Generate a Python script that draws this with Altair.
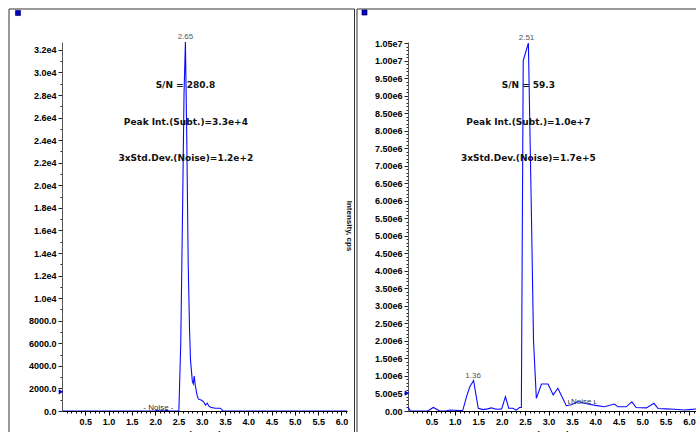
import altair as alt
import pandas as pd

# ---------------- data ----------------
left_time = [0.0, 0.5, 1.0, 1.5, 1.9, 2.0, 2.05, 2.1, 2.15, 2.2,
             2.25, 2.3, 2.4, 2.46, 2.51, 2.55, 2.59, 2.62, 2.65, 2.68,
             2.71, 2.74, 2.76, 2.80, 2.82, 2.84, 2.86, 2.90, 2.93, 3.00,
             3.04, 3.08, 3.12, 3.15, 3.19, 3.29, 3.40, 3.43, 3.45, 4.0,
             5.0, 6.12]
left_int = [0, 0, 0, 0, 0, 0, 90, 0, 40, 0,
            70, 0, 0, 0, 0, 6000, 18000, 28000, 32700, 24000,
            13000, 7000, 4500, 2600, 2400, 3100, 2300, 1400, 1050, 950,
            820, 530, 700, 450, 330, 250, 250, 150, 0, 0,
            0, 0]

right_time = [0.0, 0.05, 0.1, 0.42, 0.54, 0.68, 0.8, 0.9, 1.0, 1.1,
              1.17, 1.25, 1.32, 1.40, 1.50, 1.60, 1.70, 1.78, 1.85, 1.92,
              2.00, 2.08, 2.15, 2.24, 2.31, 2.38, 2.42, 2.46, 2.57, 2.63,
              2.68, 2.74, 2.85, 2.99, 3.10, 3.20, 3.38, 3.49, 3.63, 3.84,
              4.0, 4.19, 4.41, 4.48, 4.66, 4.78, 4.87, 5.09, 5.25, 5.34,
              5.5, 5.69, 5.91, 6.0, 6.17]
right_int = [1.2e5, 0, 0, 0, 1.0e5, 0, 0, 3e4, 2e4, 1e4,
             2e4, 4.1e5, 6.9e5, 8.7e5, 7.6e4, 4e4, 6e4, 9e4, 6e4, 5e4,
             6e4, 4.1e5, 8e4, 8e4, 2.5e4, 1.0e5, 1.0e5, 1.0e7, 1.05e7, 6.0e6,
             2.0e6, 3.6e5, 7.7e5, 7.7e5, 4.6e5, 6.5e5, 1.5e5, 1.8e5, 2.7e5, 2.0e5,
             1.6e5, 1.2e5, 2.0e5, 1.2e5, 1.2e5, 2.6e5, 1.0e5, 9e4, 2.2e5, 7e4,
             6e4, 5e4, 3e4, 4e4, 6e4]

left_notes = ["S/N = 280.8", "Peak Int.(Subt.)=3.3e+4", "3xStd.Dev.(Noise)=1.2e+2"]
left_note_t = [2.65, 2.66, 2.66]
left_note_v = [28900, 25620, 22430]
right_notes = ["S/N = 59.3", "Peak Int.(Subt.)=1.0e+7", "3xStd.Dev.(Noise)=1.7e+5"]
right_note_t = [2.57, 2.57, 2.57]
right_note_v = [9.30e6, 8.25e6, 7.22e6]

left_peak_labels = ["2.65"]
left_peak_t = [2.65]
left_peak_v = [32700]
right_peak_labels = ["2.51", "1.36"]
right_peak_t = [2.53, 1.39]
right_peak_v = [1.05e7, 8.7e5]

left_noise_text = ["- Noise -"]
left_noise_t = [2.07]
left_noise_v = [270]
right_noise_text = ["\u029fNoise \u029f"]
right_noise_t = [3.72]
right_noise_v = [2.6e5]

left_thresh_v = [1700]
right_thresh_v = [5.1e5]

left_x_max, right_x_max = 6.12, 6.17
left_y_max, right_y_max = 32700, 1.053e7

TICK_FONT = "Liberation Sans"
NOTE_FONT = "DejaVu Sans"
BLUE = "#0a0aff"
FRAME = "#333333"


def x_axis():
    vals = [round(i * 0.1, 1) for i in range(1, 62)]
    major = "abs(datum.value*2 - round(datum.value*2)) < 0.001"
    return alt.Axis(
        values=vals, title="Time, min", grid=False,
        labelExpr=f"{major} ? format(datum.value, '.1f') : ''",
        tickSize={"condition": {"test": major, "value": 4}, "value": 2},
        labelOverlap=False, labelFlush=False,
        labelFont=TICK_FONT, labelFontSize=9, labelFontWeight="bold", labelColor="#000",
        labelPadding=2,
        titleFont=TICK_FONT, titleFontSize=9, titleFontWeight="bold", titleColor="#000",
        titlePadding=4,
        domainColor="#000", tickColor="#000",
    )


def y_axis(step, major_step, top, expr):
    vals = [i * step for i in range(0, int(top // step) + 1)]
    major = f"datum.value % {major_step} == 0"
    return alt.Axis(
        values=vals, title=None, grid=False,
        labelExpr=f"{major} ? ({expr}) : ''",
        tickSize={"condition": {"test": major, "value": 4}, "value": 2},
        labelOverlap=False, labelFlush=False,
        labelFont=TICK_FONT, labelFontSize=9, labelFontWeight="bold", labelColor="#000",
        labelPadding=2,
        domainColor="#555", tickColor="#222",
    )


def panel(times, ints, xmax, ymax, width, yaxis, notes, note_t, note_v,
          pk_lab, pk_t, pk_v, nz_txt, nz_t, nz_v, th_v, frame, square, extra=None):
    xs = alt.Scale(domain=[0, xmax], nice=False, zero=False)
    ys = alt.Scale(domain=[0, ymax], nice=False)
    xa = x_axis()
    one = pd.DataFrame({"k": [0]})

    def X():
        return alt.X("t:Q", scale=xs, axis=xa)

    def Y():
        return alt.Y("v:Q", scale=ys, axis=yaxis)

    fx0, fx1, fy0, fy1 = frame
    top_rule = alt.Chart(one).mark_rule(color=FRAME, strokeWidth=1).encode(
        x=alt.value(fx0), x2=alt.value(fx1), y=alt.value(fy0))
    left_rule = alt.Chart(one).mark_rule(color=FRAME, strokeWidth=1).encode(
        x=alt.value(fx0), y=alt.value(fy0), y2=alt.value(fy1))
    right_rule = alt.Chart(one).mark_rule(color=FRAME, strokeWidth=1).encode(
        x=alt.value(fx1), y=alt.value(fy0), y2=alt.value(fy1))

    df = pd.DataFrame({"t": times, "v": ints})
    line = alt.Chart(df).mark_line(color=BLUE, strokeWidth=1.1, clip=True).encode(x=X(), y=Y())

    nd = pd.DataFrame({"txt": notes, "t": note_t, "v": note_v})
    nt = alt.Chart(nd).mark_text(font=NOTE_FONT, fontSize=9, fontWeight="bold", color="#111",
                                 align="center", baseline="middle").encode(
        x=X(), y=Y(), text="txt:N")

    pd_ = pd.DataFrame({"txt": pk_lab, "t": pk_t, "v": pk_v})
    pt = alt.Chart(pd_).mark_text(font=TICK_FONT, fontSize=8, color="#555",
                                  align="center", baseline="bottom", dy=-1).encode(
        x=X(), y=Y(), text="txt:N")

    zd = pd.DataFrame({"txt": nz_txt, "t": nz_t, "v": nz_v})
    zt = alt.Chart(zd).mark_text(font=TICK_FONT, fontSize=8, color="#333",
                                 align="center", baseline="middle").encode(
        x=X(), y=Y(), text="txt:N")

    thd = pd.DataFrame({"t": [0.0], "v": th_v})
    th = alt.Chart(thd).mark_point(shape="triangle-right", filled=True, size=28, color="#0000cc",
                                   opacity=1, xOffset=-1).encode(x=X(), y=Y())

    sq = alt.Chart(one).mark_square(size=26, color="#0000cc", stroke="#000044",
                                    strokeWidth=0.6, filled=True, opacity=1).encode(
        x=alt.value(square[0]), y=alt.value(square[1]))

    layers = [top_rule, left_rule, right_rule, line, nt, pt, zt, th, sq]
    if extra is not None:
        layers.append(extra)
    return alt.layer(*layers).properties(width=width, height=369)


left_yexpr = ("datum.value < 10000 ? format(datum.value, '.1f') : "
              "replace(format(datum.value, '.1e'), 'e+', 'e')")
right_yexpr = ("datum.value == 0 ? '0.00' : "
               "replace(format(datum.value, '.2e'), 'e+', 'e')")

ylab = alt.Chart(pd.DataFrame({"txt": ["Intensity, cps"]})).mark_text(
    font=TICK_FONT, fontSize=8, fontWeight="bold", color="#111", angle=90,
    align="center", baseline="middle").encode(
    x=alt.value(287), y=alt.value(184), text="txt:N")

left = panel(left_time, left_int, left_x_max, left_y_max, 285,
             y_axis(1000, 2000, 32000, left_yexpr),
             left_notes, left_note_t, left_note_v,
             left_peak_labels, left_peak_t, left_peak_v,
             left_noise_text, left_noise_t, left_noise_v, left_thresh_v,
             frame=(-53, 292.5, -33, 420), square=(-44, -29), extra=ylab)

right = panel(right_time, right_int, right_x_max, right_y_max, 289,
              y_axis(100000, 500000, 10500000, right_yexpr),
              right_notes, right_note_t, right_note_v,
              right_peak_labels, right_peak_t, right_peak_v,
              right_noise_text, right_noise_t, right_noise_v, right_thresh_v,
              frame=(-51, 330, -33, 420), square=(-43.5, -29.5))

# autosize "none": the drawing surface is exactly the padding box (696 x 432), with the
# first plot area's origin at (62, 42); what lies beyond (frames, lower half of the
# x titles) is cut off, as in the reference.
chart = alt.hconcat(left, right, spacing=1).properties(
    autosize=alt.AutoSizeParams(type="none"),
    padding={"left": 62, "top": 42, "right": 634, "bottom": 390},
    background="white",
).configure_view(stroke=None)

chart.save("out.html", embed_options={"renderer": "svg", "actions": False})
